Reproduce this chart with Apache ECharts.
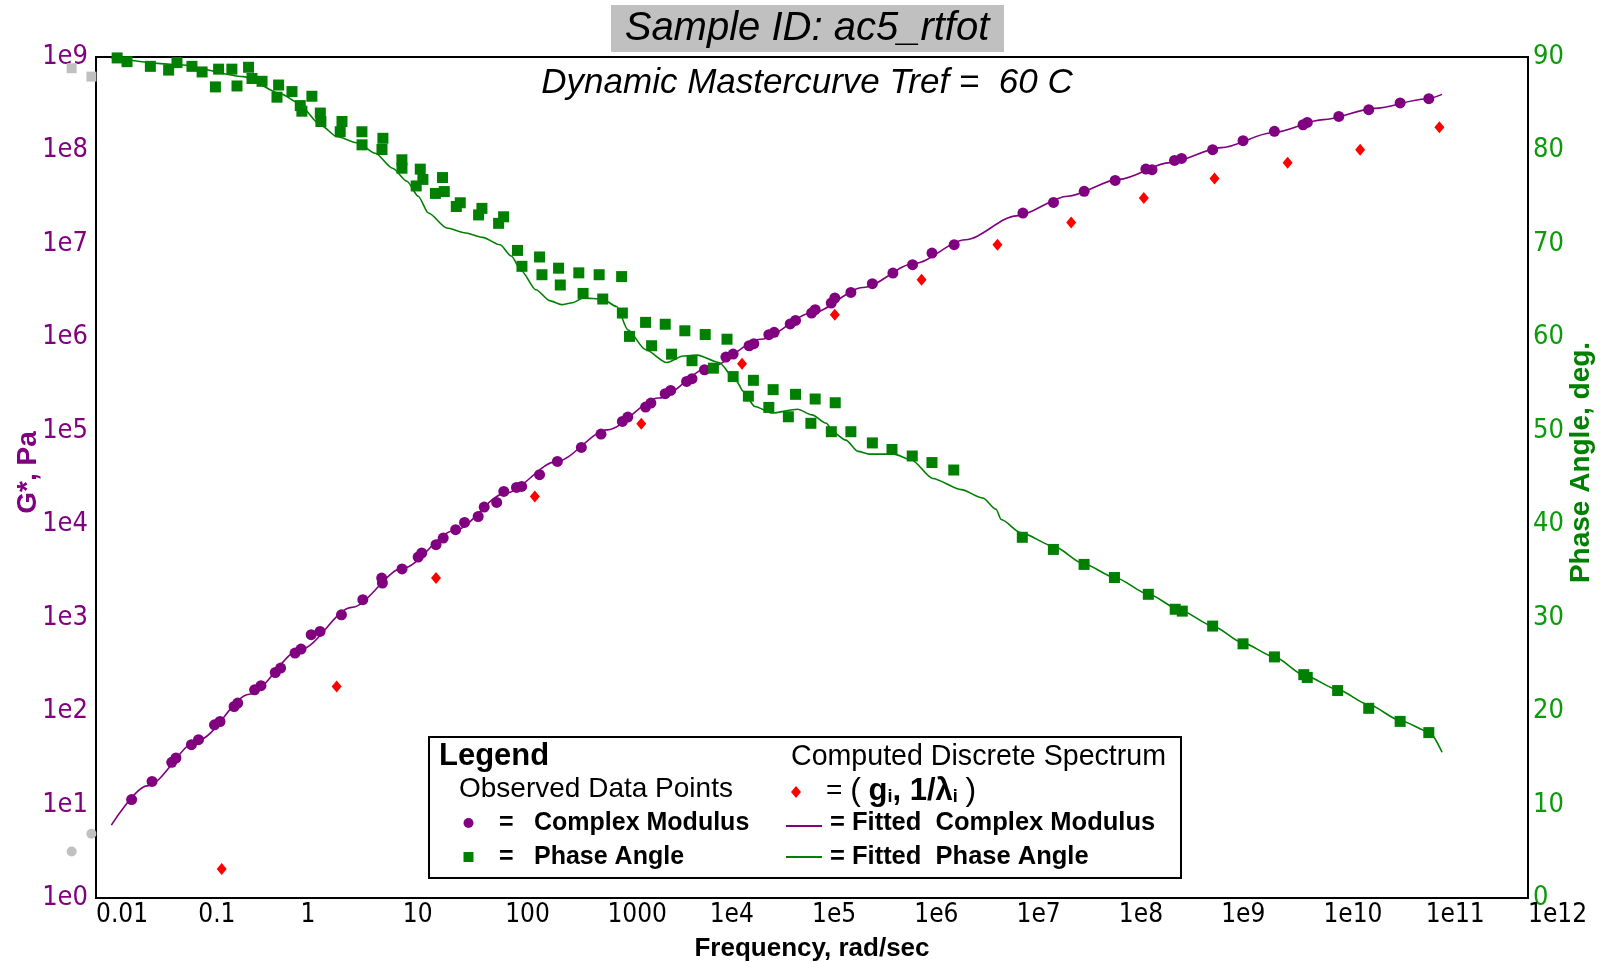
<!DOCTYPE html>
<html><head><meta charset="utf-8">
<script src="https://cdn.jsdelivr.net/npm/echarts@6/dist/echarts.min.js"></script>
<style>html,body{margin:0;padding:0;background:#fff}#c{width:1610px;height:962px}</style>
</head><body><div id="c"></div>
<script>
// ---- tick labels ----
const xTickLabels = ['0.01','0.1','1','10','100','1000','1e4','1e5','1e6','1e7','1e8','1e9','1e10','1e11','1e12'];
const gTickLabels = ['1e0','1e1','1e2','1e3','1e4','1e5','1e6','1e7','1e8','1e9'];

// ---- observed complex modulus G* (Pa) vs frequency (rad/s) ----
const gFreq = [0.0223,0.0353,0.0550,0.0605,0.0857,0.1005,0.144,0.163,0.224,0.243,0.355,0.410,0.566,0.638,0.883,1.01,1.27,1.55,2.51,4.06,6.21,6.31,9.82,14.1,15.3,21.1,24.8,32.8,40.1,54.5,62.4,82.6,97.0,129,145,217,324,556,865,1400,1581,2360,2661,3673,4150,5943,6714,8892,14390,16940,24270,26980,37840,42660,61240,69020,99080,107400,154200,167100,239900,389000,618000,961600,1.489e6,2.455e6,1.153e7,2.296e7,4.581e7,9.204e7,1.837e8,2.109e8,3.499e8,4.102e8,8.260e8,1.637e9,3.319e9,6.324e9,6.950e9,1.413e10,2.773e10,5.623e10,1.072e11];
const gObs = [11.3,17.7,28.3,31.5,43.7,49.4,71.4,77.4,112,122,169,187,259,289,418,461,658,713,1074,1556,2655,2350,3319,4457,4920,6039,7112,8730,10450,12100,15280,17100,22440,24770,25410,33880,46990,66370,92260,125900,140300,179500,198200,249500,270400,337300,360600,449800,615200,662200,812800,855100,1.067e6,1.130e6,1.393e6,1.517e6,1.820e6,1.977e6,2.328e6,2.636e6,3.027e6,3.750e6,4.875e6,5.984e6,7.980e6,9.795e6,2.138e7,2.780e7,3.648e7,4.775e7,6.324e7,6.223e7,7.816e7,8.204e7,1.019e8,1.271e8,1.600e8,1.884e8,1.995e8,2.312e8,2.729e8,3.221e8,3.581e8];

// ---- observed phase angle (deg) vs frequency ----
const pFreq = [0.0161,0.0201,0.0340,0.0513,0.0619,0.0867,0.109,0.147,0.158,0.213,0.239,0.310,0.335,0.420,0.610,0.588,0.824,0.993,1.29,1.03,1.56,1.58,2.54,2.44,3.98,3.99,6.38,6.25,9.79,9.80,14.8,15.7,13.5,24.4,25.4,20.8,36.4,33.3,59.3,55.0,96.6,86.3,132,146,217,229,333,346,525,578,830,900,1377,1400,1644,2360,2704,3673,4236,5715,6714,9036,10860,14760,16940,23880,26730,37840,41690,58750,69020,97500,107400,154500,168700,239900,389000,605300,955000,1.489e6,2.432e6,1.138e7,2.291e7,4.571e7,9.057e7,1.941e8,3.556e8,4.169e8,8.26e8,1.637e9,3.319e9,6.427e9,6.950e9,1.377e10,2.773e10,5.623e10,1.072e11];
const pObs = [89.9,89.5,89.0,88.6,89.4,89.0,88.4,86.8,88.7,88.7,86.9,88.9,87.7,87.4,87.0,85.7,86.3,84.8,85.8,84.2,84.0,83.1,83.1,82.0,82.0,80.6,81.3,80.1,79.0,78.1,78.0,76.9,76.2,77.1,75.6,75.4,74.4,74.0,73.8,73.1,72.9,72.2,69.3,67.6,68.6,66.7,67.4,65.6,66.9,64.7,66.7,64.1,66.5,62.6,60.1,61.6,59.1,61.4,58.2,60.7,57.5,60.3,56.7,59.8,55.8,53.7,55.4,52.5,54.4,51.5,53.9,50.8,53.4,49.9,53.0,49.9,48.7,48.0,47.3,46.6,45.8,38.6,37.3,35.7,34.3,32.5,30.9,30.7,29.1,27.2,25.8,23.9,23.6,22.2,20.3,18.9,17.7];

// ---- computed discrete spectrum (g_i, 1/lambda_i) ----
const specFreq = [0.1694,2.254,21.09,195.0,2143,20700,167100,1.178e6,6.501e6,3.420e7,1.754e8,8.610e8,4.467e9,2.286e10,1.361e11];
const specG = [2.042,183.7,2655,19820,119100,522400,1.746e6,4.140e6,9.795e6,1.698e7,3.097e7,5.023e7,7.396e7,1.019e8,1.766e8];

// ---- fitted complex modulus ----
const fitGFreq = [0.01413,0.03162,0.1,0.3162,1,3.162,10,31.62,100,316.2,1000,3162,1e4,3.162e4,1e5,3.162e5,1e6,3.162e6,1e7,3.162e7,1e8,3.162e8,1e9,3.162e9,1e10,3.162e10,1e11,1.445e11];
const fitG = [6.03,15.85,48.98,151.4,457.1,1288,3388,8511,21380,46770,102300,223900,478600,955000,1.820e6,3.420e6,6.166e6,1.109e7,1.995e7,3.236e7,4.898e7,7.413e7,1.072e8,1.549e8,2.138e8,2.818e8,3.548e8,3.981e8];

// ---- fitted phase angle ----
const fitPFreq = [0.01413,0.0631,0.2754,0.6607,0.912,1.622,2.239,3.631,5.370,7.943,10.96,14.13,17.78,26.92,39.81,60.26,89.13,114.8,144.5,199.5,275.4,354.8,457.1,575.4,891.3,1230,1585,2344,3802,5495,7586,12300,17780,21380,27540,40740,72440,1e5,138000,162200,213800,281800,363100,631000,933300,1.514e6,2.884e6,4.677e6,6.310e6,7.079e6,1.096e7,2.344e7,4.467e7,9.120e7,1.950e8,3.981e8,8.318e8,1.622e9,3.311e9,6.607e9,1.380e10,2.754e10,5.623e10,1.072e11,1.445e11];
const fitP = [89.9,89.2,87.9,86.0,85.2,82.6,81.5,80.8,79.7,78.1,76.7,75.1,73.3,71.7,71.2,70.7,69.9,68.7,67.1,65.1,63.9,63.5,63.7,64.2,64.1,63.3,60.8,58.7,57.3,58.0,58.1,57.3,55.5,54.2,52.6,51.9,52.3,51.7,50.8,49.8,49.0,47.8,47.5,47.5,46.9,44.9,43.7,42.8,41.6,40.5,39.1,37.6,35.8,34.3,32.5,30.8,29.1,27.3,25.8,23.8,22.3,20.7,19.0,17.8,15.6];

// ---- points below the frequency range (drawn grey) ----
const offFreq = [0.00578,0.00902];
const offG = [3.15,4.88];
const offP = [88.8,87.9];

const zip = (a,b) => a.map((v,i)=>[v,b[i]]);
const PURPLE = '#800080', GREEN = '#008000', RED = '#ff0000', GREY = '#c0c0c0';
const NARROW = "'Liberation Sans Narrow','DejaVu Sans Condensed','Liberation Sans',sans-serif";
const SANS = "'Liberation Sans',Arial,sans-serif";

const chart = echarts.init(document.getElementById('c'), null, {renderer:'canvas'});
const L = 429, T = 737;
chart.setOption({
  animation: false,
  backgroundColor: '#fff',
  grid: {left: 96, right: 82, top: 57, bottom: 64, show: true, borderColor: '#000', borderWidth: 2, outerBoundsMode: 'none'},
  xAxis: {
    type: 'log', logBase: 10, min: 0.01, max: 1e12, interval: 1,
    name: 'Frequency, rad/sec', nameLocation: 'middle', nameGap: 38, nameMoveOverlap: false,
    nameTextStyle: {color: '#000', fontWeight: 'bold', fontSize: 26, fontFamily: SANS},
    axisLine: {show: true, lineStyle: {color: '#000', width: 2}},
    axisTick: {show: false}, splitLine: {show: false}, minorTick: {show: false},
    axisLabel: {color: '#000', fontSize: 26, fontFamily: NARROW, align: 'left', margin: 4, hideOverlap: false, showMinLabel: true, showMaxLabel: true,
      formatter: v => xTickLabels[Math.round(Math.log10(v)) + 2]}
  },
  yAxis: [{
    type: 'log', logBase: 10, min: 1, max: 1e9, interval: 1, position: 'left',
    name: 'G*, Pa', nameLocation: 'middle', nameGap: 54, nameRotate: 90, nameMoveOverlap: false,
    nameTextStyle: {color: PURPLE, fontWeight: 'bold', fontSize: 28, fontFamily: SANS, padding: [0,0,0,10]},
    axisLine: {show: true, lineStyle: {color: '#000', width: 2}},
    axisTick: {show: false}, splitLine: {show: false},
    axisLabel: {color: PURPLE, fontSize: 27, fontFamily: NARROW, margin: 8, padding: [0,0,8,0],
      formatter: v => gTickLabels[Math.round(Math.log10(v))]}
  }, {
    type: 'value', min: 0, max: 90, interval: 10, position: 'right',
    name: 'Phase Angle, deg.', nameLocation: 'middle', nameGap: 39, nameRotate: 90, nameMoveOverlap: false,
    nameTextStyle: {color: GREEN, fontWeight: 'bold', fontSize: 28, fontFamily: SANS, padding: [0,0,0,30]},
    axisLine: {show: true, lineStyle: {color: '#000', width: 2}},
    axisTick: {show: false}, splitLine: {show: false},
    axisLabel: {color: '#0a9a0a', fontSize: 27, fontFamily: NARROW, margin: 5, padding: [0,0,8,0]}
  }],
  series: [
    {name: 'Fitted Complex Modulus', type: 'line', yAxisIndex: 0, data: zip(fitGFreq, fitG), showSymbol: false, smooth: 0.3, smoothMonotone: 'x', lineStyle: {color: PURPLE, width: 1.6}, z: 2},
    {name: 'Fitted Phase Angle', type: 'line', yAxisIndex: 1, data: zip(fitPFreq, fitP), showSymbol: false, smooth: 0.25, smoothMonotone: 'x', lineStyle: {color: GREEN, width: 1.6}, z: 2},
    {name: 'Complex Modulus', type: 'scatter', yAxisIndex: 0, data: zip(gFreq, gObs), symbol: 'circle', symbolSize: 11, itemStyle: {color: PURPLE, opacity: 1}, z: 3},
    {name: 'Phase Angle', type: 'scatter', yAxisIndex: 1, data: zip(pFreq, pObs), symbol: 'rect', symbolSize: 11, itemStyle: {color: GREEN, opacity: 1}, z: 4},
    {name: 'Discrete Spectrum', type: 'scatter', yAxisIndex: 0, data: zip(specFreq, specG), symbol: 'diamond', symbolSize: [10, 12], itemStyle: {color: RED, opacity: 1}, z: 5},
    {name: 'off G', type: 'scatter', yAxisIndex: 0, data: zip(offFreq, offG), symbol: 'circle', symbolSize: 10, itemStyle: {color: GREY, opacity: 1}, clip: false, z: 5},
    {name: 'off P', type: 'scatter', yAxisIndex: 1, data: zip(offFreq, offP), symbol: 'rect', symbolSize: 10, itemStyle: {color: GREY, opacity: 1}, clip: false, z: 5}
  ],
  graphic: [
    {type: 'rect', shape: {x: 611, y: 5, width: 393, height: 47}, style: {fill: '#c0c0c0'}, z: 10},
    {type: 'text', x: 807, y: 29, style: {text: 'Sample ID: ac5_rtfot', font: 'italic 40px ' + SANS, fill: '#000', align: 'center', verticalAlign: 'middle'}, z: 11},
    {type: 'text', x: 807, y: 83, style: {text: 'Dynamic Mastercurve Tref =  60 C', font: 'italic 35px ' + SANS, fill: '#000', align: 'center', verticalAlign: 'middle'}, z: 11},
    {type: 'rect', shape: {x: L, y: T, width: 752, height: 141}, style: {fill: '#fff', stroke: '#000', lineWidth: 2}, z: 20},
    {type: 'text', x: 439, y: 756, style: {text: 'Legend', font: 'bold 31px ' + SANS, fill: '#000', verticalAlign: 'middle'}, z: 21},
    {type: 'text', x: 459, y: 789, style: {text: 'Observed Data Points', font: '28px ' + SANS, fill: '#000', verticalAlign: 'middle'}, z: 21},
    {type: 'circle', shape: {cx: 468.5, cy: 823, r: 5}, style: {fill: PURPLE}, z: 21},
    {type: 'text', x: 499, y: 823, style: {text: '=', font: 'bold 25px ' + SANS, fill: '#000', verticalAlign: 'middle'}, z: 21},
    {type: 'text', x: 534, y: 823, style: {text: 'Complex Modulus', font: 'bold 25px ' + SANS, fill: '#000', verticalAlign: 'middle'}, z: 21},
    {type: 'rect', shape: {x: 463.5, y: 852, width: 10, height: 10}, style: {fill: GREEN}, z: 21},
    {type: 'text', x: 499, y: 857, style: {text: '=', font: 'bold 25px ' + SANS, fill: '#000', verticalAlign: 'middle'}, z: 21},
    {type: 'text', x: 534, y: 857, style: {text: 'Phase Angle', font: 'bold 25px ' + SANS, fill: '#000', verticalAlign: 'middle'}, z: 21},
    {type: 'text', x: 791, y: 757, style: {text: 'Computed Discrete Spectrum', font: '28.6px ' + SANS, fill: '#000', verticalAlign: 'middle'}, z: 21},
    {type: 'polygon', shape: {points: [[796,786],[801,792],[796,798],[791,792]]}, style: {fill: RED}, z: 21},
    {type: 'text', x: 826, y: 791, style: {text: '= {p|(} {g|g}{s|i}{g|, 1/λ}{s|i} {p|)}', font: '28px ' + SANS, fill: '#000', verticalAlign: 'middle',
      rich: {p: {fontSize: 32, fontFamily: SANS}, g: {fontWeight: 'bold', fontSize: 31, fontFamily: SANS}, s: {fontWeight: 'bold', fontSize: 18, fontFamily: SANS, padding: [12,0,0,0]}}}, z: 21},
    {type: 'line', shape: {x1: 786, y1: 826, x2: 822, y2: 826}, style: {stroke: PURPLE, lineWidth: 2}, z: 21},
    {type: 'text', x: 830, y: 823, style: {text: '= Fitted  Complex Modulus', font: 'bold 25.5px ' + SANS, fill: '#000', verticalAlign: 'middle'}, z: 21},
    {type: 'line', shape: {x1: 786, y1: 857, x2: 822, y2: 857}, style: {stroke: GREEN, lineWidth: 2}, z: 21},
    {type: 'text', x: 830, y: 857, style: {text: '= Fitted  Phase Angle', font: 'bold 25.5px ' + SANS, fill: '#000', verticalAlign: 'middle'}, z: 21}
  ]
});
</script></body></html>
